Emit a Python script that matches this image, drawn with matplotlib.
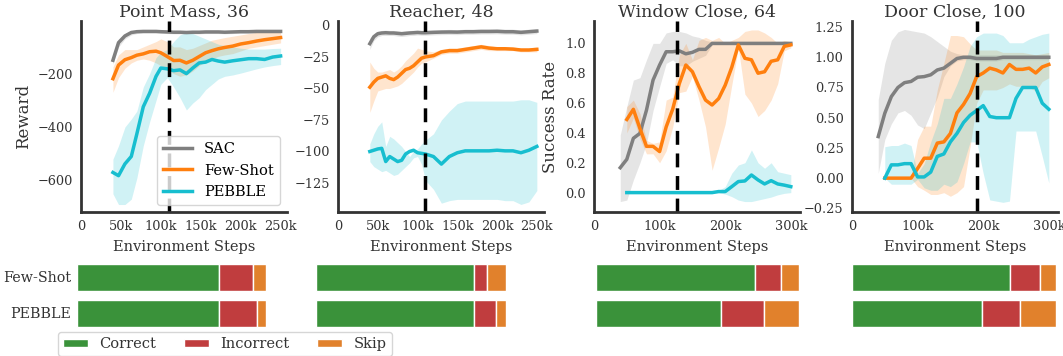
import numpy as np
import matplotlib
matplotlib.use("Agg")
import matplotlib.pyplot as plt
from matplotlib.patches import Patch

plt.rcParams['font.family'] = ['DejaVu Serif']

# ---- learning curves (x in thousands of env steps) ----
titles = ["Point Mass, 36", "Reacher, 48", "Window Close, 64", "Door Close, 100"]
feedback_step = [110, 110, 127, 190]

pm_x = [40, 47, 55, 63, 70, 78, 86, 94, 100, 108, 116, 124, 132, 140, 148, 156, 164, 172, 180, 190, 200, 210, 220, 230, 240, 250]
pm_sac = [-150, -84, -59, -46, -43, -42, -42, -42, -43, -44, -45, -45, -46, -45, -45, -44, -44, -44, -45, -44, -43, -43, -42, -42, -42, -42]
pm_sac_lo = [-165, -100, -70, -55, -50, -48, -48, -48, -49, -50, -51, -51, -52, -51, -51, -50, -50, -50, -51, -50, -49, -49, -48, -48, -48, -48]
pm_sac_hi = [-135, -70, -50, -40, -37, -36, -36, -36, -37, -38, -39, -39, -40, -39, -39, -38, -38, -38, -39, -38, -37, -37, -36, -36, -36, -36]
pm_fs = [-219, -168, -148, -140, -131, -126, -118, -116, -122, -136, -151, -150, -160, -150, -136, -122, -114, -107, -102, -97, -89, -84, -78, -73, -69, -65]
pm_fs_lo = [-270, -215, -180, -160, -150, -145, -150, -160, -170, -185, -200, -210, -205, -190, -170, -155, -145, -135, -130, -125, -115, -105, -100, -95, -90, -85]
pm_fs_hi = [-175, -130, -110, -110, -110, -100, -90, -80, -70, -80, -100, -100, -110, -105, -95, -85, -75, -70, -65, -60, -55, -50, -45, -40, -38, -35]
pm_pb = [-570, -582, -538, -510, -425, -324, -273, -210, -179, -182, -189, -186, -200, -179, -160, -157, -147, -153, -157, -152, -148, -144, -144, -147, -138, -134]
pm_pb_lo = [-650, -690, -690, -670, -590, -470, -380, -300, -240, -215, -250, -290, -336, -310, -290, -260, -240, -220, -210, -205, -198, -190, -182, -175, -170, -166]
pm_pb_hi = [-520, -470, -400, -370, -340, -250, -200, -140, -120, -110, -80, -55, -46, -50, -60, -70, -80, -90, -95, -100, -105, -108, -108, -108, -106, -105]

re_x = [40, 45, 50, 55, 60, 65, 70, 75, 80, 85, 90, 95, 100, 105, 110, 120, 130, 140, 150, 160, 170, 180, 190, 200, 210, 220, 230, 240, 250]
re_sac = [-14.5, -9, -6.6, -6, -5.8, -6, -6, -6.3, -6.6, -6.3, -6, -5.8, -5.6, -5.8, -5.8, -5.5, -5.3, -5.2, -5.3, -5, -5, -4.8, -4.8, -4.7, -5, -5, -5.5, -5, -4.5]
re_sac_lo = [-19, -12, -9, -8, -8, -8, -8, -8.5, -8.8, -8.5, -8, -8, -7.6, -7.8, -7.8, -7.5, -7.3, -7.2, -7.3, -7, -7, -6.8, -6.8, -6.7, -7, -7, -7.5, -7, -6.5]
re_sac_hi = [-10, -6.5, -4.5, -4, -3.8, -4, -4, -4.3, -4.6, -4.3, -4, -3.8, -3.6, -3.8, -3.8, -3.5, -3.3, -3.2, -3.3, -3, -3, -2.8, -2.8, -2.7, -3, -3, -3.5, -3, -2.5]
re_fs = [-49, -45, -42, -41, -40, -42, -43, -41, -38, -35, -34, -32, -29, -26, -25, -24, -21, -20, -20, -19, -18, -17, -18, -18.5, -18.5, -18.8, -19.5, -19.5, -19]
re_fs_lo = [-69, -60, -52, -51, -50, -50, -49, -48, -46, -43, -40, -37, -33, -30, -29, -26, -23, -22, -22, -21, -20, -19, -20, -20, -20, -20, -21, -21, -21]
re_fs_hi = [-29, -34, -37, -37, -36, -35, -37, -35, -32, -28, -25, -22, -18, -19, -20, -21, -19, -18, -18, -17, -16, -15, -16, -17, -17, -17, -18, -18, -17]
re_pb = [-100, -99, -98, -97.5, -108, -104, -106, -108, -107, -102, -100, -99, -101, -101.5, -102, -104, -110, -104, -101, -99.5, -99.5, -99.5, -99.5, -99, -99.5, -99.5, -101, -99, -96]
re_pb_lo = [-108, -112, -114, -116, -115, -117, -119, -118, -115, -112, -109, -105, -104, -110, -123, -130, -141, -139, -138, -138, -138, -138, -138, -138, -139, -139, -142, -140, -131]
re_pb_hi = [-94, -86, -80, -76.5, -96, -88, -90, -93, -96, -100, -104, -100, -98, -94, -91, -86, -75, -68, -62, -60, -60, -60, -60, -60, -60, -60, -59, -59, -61]

wc_x_sac = [40, 50, 60, 70, 80, 90, 100, 110, 120, 130, 140, 150, 160, 170, 180, 190, 200, 210, 220, 230, 240, 250, 260, 270, 280, 290, 300]
wc_sac = [0.167, 0.223, 0.364, 0.397, 0.553, 0.754, 0.855, 0.944, 0.944, 0.95, 0.93, 0.94, 0.96, 0.96, 1.0, 1.0, 1.0, 1.0, 1.0, 1.0, 1.0, 1.0, 1.0, 1.0, 1.0, 1.0, 1.0]
wc_sac_lo = [-0.06, -0.05, 0.085, 0.2, 0.33, 0.55, 0.71, 0.866, 0.89, 0.85, 0.85, 0.88, 0.9, 0.92, 0.99, 0.99, 0.99, 0.99, 0.99, 0.99, 0.99, 0.99, 0.99, 0.99, 0.99, 0.99, 0.99]
wc_sac_hi = [0.386, 0.576, 0.754, 0.77, 0.89, 1.0, 1.0, 1.07, 1.08, 1.08, 1.07, 1.05, 1.04, 1.02, 1.01, 1.01, 1.01, 1.01, 1.01, 1.01, 1.01, 1.01, 1.01, 1.01, 1.01, 1.01, 1.01]
wc_x = [50, 60, 70, 80, 90, 100, 110, 120, 130, 140, 150, 160, 170, 180, 190, 200, 210, 220, 230, 240, 250, 260, 270, 280, 290, 300]
wc_fs = [0.49, 0.558, 0.43, 0.31, 0.31, 0.275, 0.44, 0.56, 0.73, 0.855, 0.81, 0.71, 0.62, 0.587, 0.63, 0.72, 0.84, 0.99, 0.9, 0.89, 0.80, 0.81, 0.88, 0.89, 0.98, 0.99]
wc_fs_lo = [0.40, 0.50, 0.36, 0.26, 0.26, 0.20, 0.28, 0.44, 0.67, 0.68, 0.78, 0.62, 0.44, 0.15, 0.30, 0.46, 0.72, 0.97, 0.66, 0.60, 0.51, 0.55, 0.62, 0.73, 0.95, 0.97]
wc_fs_hi = [0.576, 0.62, 0.53, 0.35, 0.33, 0.34, 0.62, 0.64, 0.92, 1.0, 0.89, 1.02, 1.04, 1.02, 1.04, 1.0, 1.02, 1.04, 1.08, 1.09, 1.09, 1.07, 1.04, 1.0, 1.02, 1.01]
wc_pb = [0, 0, 0, 0, 0, 0, 0, 0, 0, 0, 0, 0, 0, 0, 0.007, 0.007, 0.04, 0.074, 0.078, 0.118, 0.085, 0.058, 0.08, 0.058, 0.05, 0.04]
wc_pb_lo = [0, 0, 0, 0, 0, 0, 0, 0, 0, 0, 0, 0, 0, 0, 0.0, -0.01, -0.027, -0.05, -0.06, -0.06, -0.05, -0.04, -0.03, -0.015, -0.005, 0.0]
wc_pb_hi = [0, 0, 0, 0, 0, 0, 0, 0, 0, 0, 0, 0, 0, 0, 0.015, 0.04, 0.13, 0.185, 0.2, 0.286, 0.2, 0.163, 0.2, 0.14, 0.13, 0.12]

dc_x_sac = [40, 50, 60, 70, 80, 90, 100, 110, 120, 130, 140, 150, 160, 170, 180, 190, 200, 210, 220, 230, 240, 250, 260, 270, 280, 290, 300]
dc_sac = [0.344, 0.537, 0.675, 0.75, 0.79, 0.80, 0.835, 0.84, 0.855, 0.895, 0.91, 0.95, 0.99, 1.0, 1.0, 0.99, 0.99, 0.99, 0.99, 1.0, 1.0, 1.0, 1.0, 1.0, 1.0, 1.0, 1.0]
dc_sac_lo = [0.04, 0.32, 0.45, 0.54, 0.56, 0.52, 0.44, 0.41, 0.54, 0.67, 0.84, 0.93, 0.97, 0.98, 0.98, 0.97, 0.97, 0.97, 0.97, 0.98, 0.98, 0.98, 0.98, 0.98, 0.98, 0.98, 0.98]
dc_sac_hi = [0.65, 0.95, 1.14, 1.21, 1.23, 1.22, 1.21, 1.2, 1.17, 1.13, 1.09, 1.05, 1.03, 1.02, 1.02, 1.02, 1.02, 1.02, 1.02, 1.02, 1.02, 1.02, 1.02, 1.02, 1.02, 1.02, 1.02]
dc_x = [50, 60, 70, 80, 90, 100, 110, 120, 130, 140, 150, 160, 170, 180, 190, 200, 210, 220, 230, 240, 250, 260, 270, 280, 290, 300]
dc_fs = [0, 0, 0, 0, 0, 0.08, 0.165, 0.165, 0.29, 0.30, 0.37, 0.54, 0.61, 0.70, 0.84, 0.87, 0.91, 0.895, 0.87, 0.94, 0.90, 0.90, 0.91, 0.87, 0.92, 0.94]
dc_fs_lo = [0, 0, 0, 0, 0, -0.07, -0.1, -0.135, -0.135, -0.12, -0.15, -0.12, -0.07, 0.26, 0.62, 0.73, 0.73, 0.73, 0.75, 0.78, 0.76, 0.76, 0.75, 0.72, 0.8, 0.83]
dc_fs_hi = [0, 0, 0, 0, 0.02, 0.32, 0.43, 0.43, 0.73, 0.95, 1.18, 1.18, 1.17, 1.11, 1.06, 1.06, 1.06, 1.06, 1.04, 1.04, 1.04, 1.04, 1.03, 1.02, 1.03, 1.04]
dc_pb = [0.0, 0.11, 0.11, 0.12, 0.12, 0.01, 0.01, 0.05, 0.18, 0.2, 0.3, 0.37, 0.46, 0.52, 0.56, 0.6, 0.51, 0.5, 0.5, 0.5, 0.66, 0.75, 0.75, 0.75, 0.62, 0.57]
dc_pb_lo = [0, -0.05, -0.05, -0.05, -0.05, -0.01, -0.08, -0.1, -0.1, -0.05, -0.07, -0.03, 0.12, 0.3, 0.3, 0.04, -0.18, -0.19, -0.2, -0.19, 0.39, 0.39, 0.39, 0.39, 0.18, -0.04]
dc_pb_hi = [0.26, 0.27, 0.27, 0.29, 0.27, 0.04, 0.12, 0.3, 0.45, 0.66, 0.66, 0.78, 0.92, 1.09, 1.17, 1.2, 1.2, 1.2, 1.18, 1.12, 1.12, 1.12, 1.15, 1.17, 1.19, 1.2]

# ---- label feedback fractions: correct, incorrect, skip ----
bar_rows = ["Few-Shot", "PEBBLE"]
bar_parts = ["Correct", "Incorrect", "Skip"]
fs_frac = [[0.75, 0.18, 0.07], [0.83, 0.07, 0.10], [0.785, 0.125, 0.09], [0.775, 0.145, 0.08]]
pb_frac = [[0.75, 0.20, 0.05], [0.83, 0.115, 0.055], [0.615, 0.215, 0.17], [0.635, 0.19, 0.175]]

C_SAC, C_FS, C_PB = "#7f7f7f", "#ff7f0e", "#17becf"
BAR_COLORS = ["#3a923a", "#c03d3e", "#e1812c"]
SPINE = "#333333"
TXT = "#333333"

def curve(ax, x, y, lo, hi, c, label):
	x = np.array(x) * 1000
	ax.fill_between(x, lo, hi, color=c, alpha=0.2, lw=0)
	ax.plot(x, y, color=c, lw=2.5, label=label)

def style(ax):
	for s in ["top", "right"]:
		ax.spines[s].set_visible(False)
	for s in ["left", "bottom"]:
		ax.spines[s].set_color(SPINE)
		ax.spines[s].set_linewidth(2)
	ax.tick_params(length=0, labelsize=9.3, colors=TXT, pad=6)

W, H = 1063, 356
fig = plt.figure(figsize=(W / 100, H / 100), dpi=100)

top_left = [81, 338, 594, 852]
curves = [
	(pm_x, pm_sac, pm_sac_lo, pm_sac_hi, pm_x, pm_fs, pm_fs_lo, pm_fs_hi, pm_pb, pm_pb_lo, pm_pb_hi),
	(re_x, re_sac, re_sac_lo, re_sac_hi, re_x, re_fs, re_fs_lo, re_fs_hi, re_pb, re_pb_lo, re_pb_hi),
	(wc_x_sac, wc_sac, wc_sac_lo, wc_sac_hi, wc_x, wc_fs, wc_fs_lo, wc_fs_hi, wc_pb, wc_pb_lo, wc_pb_hi),
	(dc_x_sac, dc_sac, dc_sac_lo, dc_sac_hi, dc_x, dc_fs, dc_fs_lo, dc_fs_hi, dc_pb, dc_pb_lo, dc_pb_hi),
]
ylims = [(-718, -3), (-148, 3.5), (-0.13, 1.15), (-0.28, 1.30)]
yticks = [[-600, -400, -200], [-125, -100, -75, -50, -25, 0],
	[0.0, 0.2, 0.4, 0.6, 0.8, 1.0], [-0.25, 0.0, 0.25, 0.5, 0.75, 1.0, 1.25]]
ytick_fmt = ["{:.0f}", "{:.0f}", "{:.1f}", "{:.2f}"]
xmax = [250, 250, 300, 300]
xlim_hi = [258, 259, 314, 314]

for i in range(4):
	ax = fig.add_axes([top_left[i] / W, (H - 212) / H, 206 / W, 191 / H])
	xs, s, slo, shi, xo, f, flo, fhi, p, plo, phi = curves[i]
	curve(ax, xs, s, slo, shi, C_SAC, "SAC")
	curve(ax, xo, f, flo, fhi, C_FS, "Few-Shot")
	curve(ax, xo, p, plo, phi, C_PB, "PEBBLE")
	ax.axvline(feedback_step[i] * 1000, color="black", ls="--", lw=2.5, dashes=(4, 2.5))
	ax.set_xlim(0, xlim_hi[i] * 1000)
	ax.set_ylim(*ylims[i])
	step = 50 if xmax[i] == 250 else 100
	xt = list(range(0, xmax[i] + 1, step))
	ax.set_xticks([t * 1000 for t in xt])
	ax.set_xticklabels(["0" if t == 0 else "%dk" % t for t in xt])
	ax.set_yticks(yticks[i])
	ax.set_yticklabels([ytick_fmt[i].format(v).replace("-", "\u2212") for v in yticks[i]])
	ax.set_title(titles[i], fontsize=12.5, color=TXT, pad=3)
	ax.set_xlabel("Environment Steps", fontsize=10.5, color=TXT, labelpad=5)
	style(ax)
	if i == 0:
		ax.set_ylabel("Reward", fontsize=12, color=TXT, labelpad=4)
		leg = ax.legend(loc="lower right", fontsize=10.5, frameon=True, fancybox=True,
			bbox_to_anchor=(1.0, 0.0), handlelength=2.0)
		leg.get_frame().set_edgecolor("#cccccc")
	if i == 2:
		ax.set_ylabel("Success Rate", fontsize=12, color=TXT, labelpad=4)

# bars below each curve panel
bar_left = [77, 316, 596, 852]
bar_width = [189, 190, 203, 204]
for i in range(4):
	ax = fig.add_axes([bar_left[i] / W, (H - 331) / H, bar_width[i] / W, 72 / H])
	for r, frac in enumerate([fs_frac[i], pb_frac[i]]):
		left = 0
		for k, v in enumerate(frac):
			ax.barh(r, v, left=left, height=0.75, color=BAR_COLORS[k], edgecolor="white", lw=1)
			left += v
	ax.set_xlim(0, 1)
	ax.set_ylim(1.5, -0.5)
	for s in ax.spines.values():
		s.set_visible(False)
	ax.set_xticks([])
	ax.set_yticks([0, 1])
	if i == 0:
		ax.set_yticklabels(bar_rows, fontsize=10.3, color=TXT)
	else:
		ax.set_yticklabels([])
	ax.tick_params(length=0, pad=4)

handles = [Patch(facecolor=c, edgecolor="white") for c in BAR_COLORS]
bl = fig.legend(handles, bar_parts, loc="upper left", bbox_to_anchor=(58 / W, 1 - 332 / H),
	ncol=3, fontsize=10.5, frameon=True, handlelength=1.7, handleheight=0.55,
	handletextpad=0.8, columnspacing=1.9, borderpad=0.35, borderaxespad=0)
bl.get_frame().set_edgecolor("#cccccc")
for t in bl.get_texts():
	t.set_color(TXT)

fig.savefig("out.png", dpi=100)
